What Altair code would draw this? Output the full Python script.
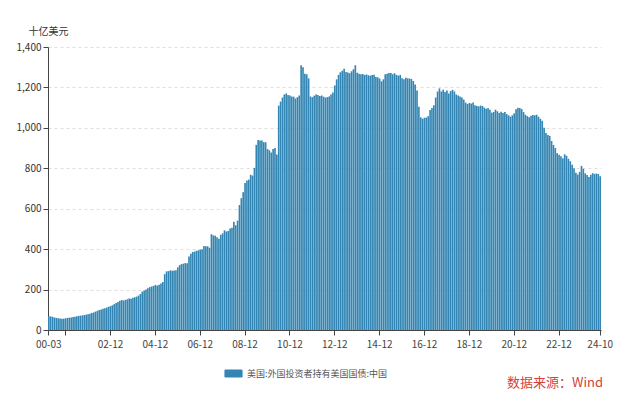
import altair as alt
import pandas as pd

series_name = "美国:外国投资者持有美国国债:中国"
unit_title = "十亿美元"
source_text = "数据来源：Wind"

# monthly values, billions USD (2000 starts in March, 2024 ends in October)
v2000 = [68, 67, 65, 62, 60, 58, 57, 56, 56, 58]
v2001 = [60, 61, 62, 64, 66, 68, 70, 71, 72, 74, 76, 78]
v2002 = [81, 84, 87, 91, 95, 99, 102, 105, 108, 111, 115, 118]
v2003 = [122, 128, 133, 139, 145, 148, 146, 149, 152, 156, 154, 159]
v2004 = [162, 165, 170, 178, 190, 195, 200, 207, 212, 215, 218, 223]
v2005 = [220, 224, 230, 238, 276, 290, 291, 295, 293, 294, 296, 310]
v2006 = [321, 326, 328, 331, 330, 364, 377, 386, 388, 392, 394, 397]
v2007 = [399, 416, 414, 414, 407, 474, 468, 466, 459, 452, 471, 478]
v2008 = [493, 487, 490, 502, 506, 535, 518, 541, 618, 652, 682, 727]
v2009 = [740, 744, 768, 764, 802, 916, 940, 937, 938, 929, 929, 895]
v2010 = [889, 878, 895, 900, 868, 1110, 1130, 1150, 1165, 1170, 1162, 1160]
v2011 = [1155, 1154, 1145, 1152, 1160, 1310, 1300, 1268, 1265, 1245, 1155, 1152]
v2012 = [1159, 1165, 1162, 1157, 1160, 1154, 1150, 1152, 1155, 1165, 1175, 1210]
v2013 = [1240, 1262, 1275, 1282, 1292, 1276, 1274, 1270, 1280, 1290, 1310, 1272]
v2014 = [1268, 1265, 1266, 1262, 1264, 1260, 1258, 1262, 1263, 1252, 1250, 1244]
v2015 = [1230, 1240, 1265, 1268, 1271, 1271, 1265, 1270, 1262, 1258, 1262, 1246]
v2016 = [1240, 1248, 1245, 1244, 1242, 1232, 1215, 1185, 1105, 1052, 1045, 1050]
v2017 = [1051, 1058, 1088, 1098, 1112, 1150, 1180, 1195, 1180, 1189, 1177, 1185]
v2018 = [1170, 1182, 1188, 1180, 1165, 1160, 1155, 1150, 1140, 1125, 1118, 1123]
v2019 = [1120, 1125, 1112, 1108, 1106, 1110, 1108, 1100, 1095, 1098, 1090, 1075]
v2020 = [1079, 1090, 1082, 1074, 1080, 1074, 1078, 1068, 1062, 1055, 1062, 1072]
v2021 = [1092, 1100, 1098, 1093, 1078, 1065, 1058, 1052, 1060, 1064, 1062, 1065]
v2022 = [1055, 1045, 1035, 1000, 975, 965, 960, 935, 915, 900, 875, 867]
v2023 = [859, 849, 869, 862, 847, 835, 818, 800, 778, 769, 782, 812]
v2024 = [797, 775, 767, 757, 768, 776, 772, 774, 772, 760]

year_values = {
    2000: v2000, 2001: v2001, 2002: v2002, 2003: v2003, 2004: v2004,
    2005: v2005, 2006: v2006, 2007: v2007, 2008: v2008, 2009: v2009,
    2010: v2010, 2011: v2011, 2012: v2012, 2013: v2013, 2014: v2014,
    2015: v2015, 2016: v2016, 2017: v2017, 2018: v2018, 2019: v2019,
    2020: v2020, 2021: v2021, 2022: v2022, 2023: v2023, 2024: v2024,
}

tick_months = ["00-03", "00-12", "02-12", "04-12", "06-12", "08-12", "10-12",
               "12-12", "14-12", "16-12", "18-12", "20-12", "22-12", "24-10"]
y_ticks = [0, 200, 400, 600, 800, 1000, 1200, 1400]

rows = []
for yr, vals in year_values.items():
    start = 3 if yr == 2000 else 1
    for i, v in enumerate(vals):
        rows.append({"month": f"{yr % 100:02d}-{start + i:02d}", "value": v,
                     "series": series_name})
df = pd.DataFrame(rows)
months = list(df["month"])

FONT = "Noto Sans CJK SC"
legend_path = ("M-0.85,-0.45H0.85Q1,-0.45 1,-0.3V0.3Q1,0.45 0.85,0.45"
               "H-0.85Q-1,0.45 -1,0.3V-0.3Q-1,-0.45 -0.85,-0.45Z")

bars = alt.Chart(df).mark_bar().encode(
    x=alt.X("month:O", sort=months,
            scale=alt.Scale(paddingInner=0.12, paddingOuter=0),
            axis=alt.Axis(values=tick_months, title=None, labelAngle=0,
                          labelExpr="datum.value == '00-12' ? '' : datum.label",
                          labelFontSize=10, labelColor="#444", labelFont=FONT,
                          labelPadding=4, labelOverlap=False,
                          domainColor="#444", tickColor="#444", tickSize=5,
                          grid=False)),
    y=alt.Y("value:Q", scale=alt.Scale(domain=[0, 1400], nice=False),
            axis=alt.Axis(values=y_ticks, format=",.0f", title=unit_title,
                          titleAngle=0, titleAlign="left", titleBaseline="middle",
                          titleX=-20, titleY=-16, titleFontSize=10,
                          titleFontWeight="normal", titleColor="#333", titleFont=FONT,
                          labelFontSize=10, labelColor="#333", labelFont=FONT,
                          domainColor="#444", tickColor="#444", tickSize=5,
                          grid=True, gridDash=[3, 3], gridColor="#dedede")),
    color=alt.Color("series:N", scale=alt.Scale(range=["#3386b4"]),
                    legend=alt.Legend(orient="none", legendX=176, legendY=317,
                                      title=None, symbolType=legend_path,
                                      symbolSize=330, symbolStrokeWidth=0,
                                      labelFontSize=9, labelColor="#555",
                                      labelFont=FONT, direction="horizontal")),
)

src = alt.Chart(pd.DataFrame({"t": [source_text]})).mark_text(
    align="right", baseline="middle", fontSize=13, color="#d6403c", font=FONT
).encode(text="t:N", x=alt.value(555), y=alt.value(336))

chart = alt.layer(bars, src).properties(
    width=553, height=283,
    autosize=alt.AutoSizeParams(type="none"),
    padding={"left": 40, "top": 39, "right": 12, "bottom": 62},
    background="white",
).configure_view(stroke=None)

chart.save("out.html", embed_options={"renderer": "svg", "actions": False})
